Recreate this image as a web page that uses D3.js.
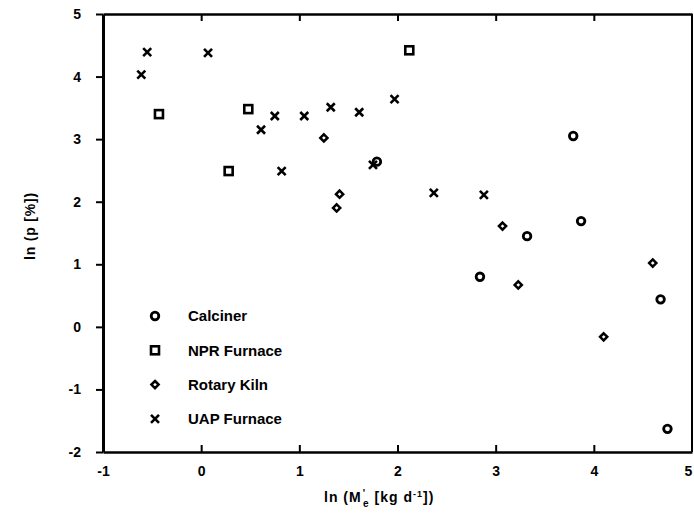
<!DOCTYPE html>
<html lang="en">
<meta charset="utf-8">
<style>
  body { margin: 0; background: #fff; }
  svg { font-family: "Liberation Sans", Arial, sans-serif; font-weight: bold; }
  .axis path, .axis line { stroke: #000; }
  .axis text { font-size: 14px; font-weight: bold; fill: #000; }
  .mark { fill: none; stroke: #000; }
</style>
<script src="https://d3js.org/d3.v7.min.js"></script>
<body>
<div id="chart"></div>
<script>
// values
const calciner = [[1.79, 2.64], [2.84, 0.80], [3.32, 1.45], [3.79, 3.05], [3.87, 1.69], [4.68, 0.44], [4.75, -1.63]]
const nprFurnace = [[-0.43, 3.40], [0.28, 2.49], [0.48, 3.48], [2.12, 4.42]]
const rotaryKiln = [[1.25, 3.02], [1.38, 1.90], [1.41, 2.12], [3.07, 1.61], [3.23, 0.67], [4.10, -0.16], [4.60, 1.02]]
const uapFurnace = [[-0.61, 4.03], [-0.55, 4.39], [0.07, 4.38], [0.61, 3.15], [0.75, 3.37], [0.82, 2.49],
  [1.05, 3.37], [1.32, 3.51], [1.61, 3.43], [1.75, 2.59], [1.97, 3.64], [2.37, 2.14], [2.88, 2.11]]
const xTicks = [-1, 0, 1, 2, 3, 4, 5]
const yTicks = [-2, -1, 0, 1, 2, 3, 4, 5]
const legendNames = ["Calciner", "NPR Furnace", "Rotary  Kiln", "UAP Furnace"]

const W = 694, H = 523
const MARGIN = { LEFT: 103, RIGHT: 2, TOP: 14, BOTTOM: 71 }

const svg = d3.select("#chart").append("svg")
  .attr("width", W)
  .attr("height", H)

const x = d3.scaleLinear().domain([-1, 5]).range([MARGIN.LEFT, W - MARGIN.RIGHT])
const y = d3.scaleLinear().domain([-2, 5]).range([H - MARGIN.BOTTOM, MARGIN.TOP])

// plain hyphen minus like the scan
const fmt = d => String(d)

// marker drawers
const shapes = {
  circle: (g, cx, cy) => g.append("circle").attr("class", "mark")
    .attr("cx", cx).attr("cy", cy).attr("r", 3.8).attr("stroke-width", 2.8),
  square: (g, cx, cy) => g.append("rect").attr("class", "mark")
    .attr("x", cx - 4).attr("y", cy - 4).attr("width", 8).attr("height", 8).attr("stroke-width", 2.6),
  diamond: (g, cx, cy) => g.append("path").attr("class", "mark")
    .attr("d", `M${cx},${cy - 3.6}L${cx + 3.6},${cy}L${cx},${cy + 3.6}L${cx - 3.6},${cy}Z`)
    .attr("stroke-width", 2.5),
  cross: (g, cx, cy) => g.append("path").attr("class", "mark")
    .attr("d", `M${cx - 4},${cy - 4}L${cx + 4},${cy + 4}M${cx - 4},${cy + 4}L${cx + 4},${cy - 4}`)
    .attr("stroke-width", 2.6)
}

const series = [
  { data: calciner, shape: "circle" },
  { data: nprFurnace, shape: "square" },
  { data: rotaryKiln, shape: "diamond" },
  { data: uapFurnace, shape: "cross" }
]

// axes
const yAxis = svg.append("g")
  .attr("class", "axis")
  .attr("transform", `translate(${MARGIN.LEFT},0)`)
  .call(d3.axisLeft(y).tickValues(yTicks).tickFormat(fmt).tickSize(7).tickSizeOuter(0).tickPadding(15))
yAxis.select(".domain").attr("stroke-width", 3)
yAxis.selectAll(".tick line").attr("stroke-width", 2)

const xAxis = svg.append("g")
  .attr("class", "axis")
  .attr("transform", `translate(0,${H - MARGIN.BOTTOM})`)
  .call(d3.axisBottom(x).tickValues(xTicks).tickFormat(fmt).tickSize(-7).tickSizeOuter(0).tickPadding(14))
xAxis.select(".domain").attr("stroke-width", 2.6)
xAxis.selectAll(".tick line").attr("stroke-width", 2)
xAxis.selectAll(".tick").filter(d => d === -1 || d === 5).select("line").remove()
xAxis.selectAll(".tick").filter(d => d === 5).select("text").attr("dx", -4)

const topAxis = svg.append("g")
  .attr("class", "axis")
  .attr("transform", `translate(0,${MARGIN.TOP})`)
  .call(d3.axisTop(x).tickValues(xTicks).tickSize(-7).tickSizeOuter(0).tickFormat(""))
topAxis.select(".domain").attr("stroke-width", 2.6)
topAxis.selectAll(".tick line").attr("stroke-width", 2)
topAxis.selectAll(".tick").filter(d => d === -1 || d === 5).select("line").remove()

svg.append("line")
  .attr("x1", x(5)).attr("x2", x(5))
  .attr("y1", y(5)).attr("y2", y(-2))
  .attr("stroke", "#000").attr("stroke-width", 2)

// points
const pts = svg.append("g")
series.forEach(s => {
  s.data.forEach(d => shapes[s.shape](pts, x(d[0]), y(d[1])))
})

// legend
const legend = svg.append("g")
series.forEach((s, i) => {
  const ly = 316 + i * 34.3
  shapes[s.shape](legend, 155, ly)
  legend.append("text")
    .attr("x", 188).attr("y", ly)
    .attr("dy", "0.35em")
    .attr("font-size", "15px")
    .text(legendNames[i])
})

// axis titles
svg.append("text")
  .attr("transform", `translate(35,226) rotate(-90)`)
  .attr("text-anchor", "middle")
  .attr("font-size", "14px")
  .attr("letter-spacing", "0.8px")
  .text("ln (p [%])")

const xt = svg.append("text")
  .attr("x", 324).attr("y", 502)
  .attr("font-size", "14px")
  .attr("letter-spacing", "1px")
xt.append("tspan").text("ln  (M")
xt.append("tspan").attr("font-size", "10px").attr("dx", 1).attr("dy", -5).text("'")
xt.append("tspan").attr("font-size", "10px").attr("dx", -3).attr("dy", 10).text("e")
xt.append("tspan").attr("dy", -5).text(" [kg d")
xt.append("tspan").attr("font-size", "9px").attr("dy", -5).text("-1")
xt.append("tspan").attr("dy", 5).text("])")
</script>
</body>
</html>
